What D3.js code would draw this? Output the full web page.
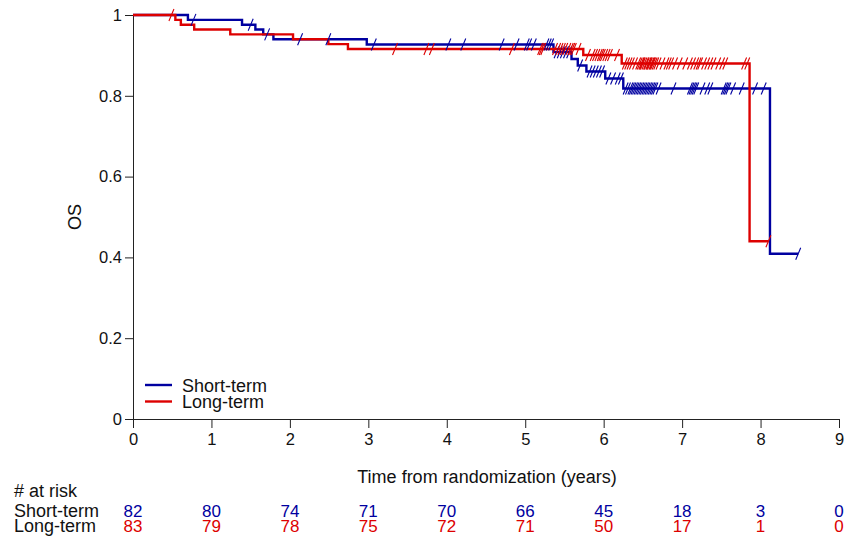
<!DOCTYPE html>
<html lang="en">
<head>
<meta charset="UTF-8">
<title>OS by arm</title>
<script src="https://d3js.org/d3.v7.min.js"></script>
<style>
  body { margin: 0; background: #fff; }
  svg { display: block; font-family: "Liberation Sans", Arial, sans-serif; }
</style>
</head>
<body>
<svg id="chart" width="849" height="538"></svg>
<script>
// survival steps (time in years, OS)
var shortTimes = [0, 0.70, 1.39, 1.56, 1.66, 1.79, 2.98, 5.36, 5.59, 5.67, 5.78, 6.02, 6.25, 8.12];
var shortSurv  = [1, 0.988, 0.976, 0.964, 0.952, 0.940, 0.927, 0.908, 0.891, 0.875, 0.860, 0.843, 0.818, 0.409];
var shortEnd = 8.48;
var shortCens = [0.77, 1.50, 1.71, 2.13, 2.49, 3.07, 4.02, 4.21, 4.70, 4.89,
  5.02, 5.05, 5.11, 5.27, 5.30, 5.33, 5.40, 5.44, 5.48, 5.52, 5.56, 5.70, 5.82, 5.86, 5.90, 5.94, 5.98,
  6.06, 6.12, 6.18, 6.22, 6.28, 6.31, 6.34, 6.36, 6.38, 6.40, 6.42, 6.44, 6.46, 6.48, 6.50, 6.52,
  6.54, 6.56, 6.58, 6.60, 6.62, 6.64, 6.66, 6.70, 6.89,
  7.10, 7.12, 7.14, 7.16, 7.18, 7.26, 7.32, 7.36, 7.53, 7.55, 7.57, 7.59, 7.65, 7.76, 7.93, 8.04, 8.48];

var longTimes = [0, 0.54, 0.61, 0.78, 1.24, 2.04, 2.49, 2.74, 5.74, 6.23, 7.86];
var longSurv  = [1, 0.988, 0.976, 0.964, 0.952, 0.940, 0.928, 0.916, 0.901, 0.880, 0.440];
var longEnd = 8.10;
var longCens = [0.49, 3.34, 3.74, 3.81, 4.83,
  5.19, 5.21, 5.23, 5.38, 5.42, 5.45, 5.48, 5.51, 5.55, 5.58, 5.60, 5.62, 5.68, 5.80, 5.86, 5.89, 5.92, 5.95, 5.97, 5.99,
  6.02, 6.05, 6.08, 6.17, 6.27, 6.30, 6.33, 6.36, 6.40, 6.44, 6.46, 6.48, 6.49, 6.50, 6.52, 6.54, 6.55,
  6.57, 6.58, 6.59, 6.61, 6.62, 6.63, 6.65, 6.67, 6.70, 6.75, 6.80, 6.83, 6.86, 6.91, 6.97,
  7.04, 7.10, 7.14, 7.18, 7.21, 7.23, 7.28, 7.32, 7.36, 7.40, 7.46, 7.51, 7.55, 7.79, 7.83, 8.10];

var xTicks = [0, 1, 2, 3, 4, 5, 6, 7, 8, 9];
var yTicks = [0, 0.2, 0.4, 0.6, 0.8, 1];
var shortRisk = [82, 80, 74, 71, 70, 66, 45, 18, 3, 0];
var longRisk  = [83, 79, 78, 75, 72, 71, 50, 17, 1, 0];

var blue = "#0000a0", red = "#dd0000";
var ink = "#111";

var svg = d3.select("#chart");
var x = d3.scaleLinear().domain([0, 9]).range([133, 839]);
var y = d3.scaleLinear().domain([0, 1]).range([419, 15]);

// axes
var xAxis = svg.append("g").attr("transform", "translate(0,419)")
  .call(d3.axisBottom(x).tickValues(xTicks).tickSize(9).tickSizeOuter(0).tickFormat(d3.format("d")));
var yAxis = svg.append("g").attr("transform", "translate(133,0)")
  .call(d3.axisLeft(y).tickValues(yTicks).tickSize(8).tickSizeOuter(0).tickFormat(d => d === 0 || d === 1 ? d : d3.format(".1f")(d)));
[xAxis, yAxis].forEach(function (a) {
  a.select(".domain").attr("stroke", "#222");
  a.selectAll(".tick line").attr("stroke", "#222");
  a.selectAll("text").attr("font-size", 16.5).attr("fill", ink).attr("font-family", "Liberation Sans, Arial, sans-serif");
});
xAxis.selectAll("text").attr("dy", 0).attr("y", 26);
yAxis.selectAll("text").attr("x", -11);

svg.append("text").attr("transform", "translate(81,217) rotate(-90)")
  .attr("text-anchor", "middle").attr("font-size", 18).attr("fill", ink).text("OS");
svg.append("text").attr("x", 487).attr("y", 483)
  .attr("text-anchor", "middle").attr("font-size", 18).attr("fill", ink).text("Time from randomization (years)");

// curves
var line = d3.line().x(d => x(d[0])).y(d => y(d[1])).curve(d3.curveStepAfter);
function drawGroup(times, surv, end, color) {
  var pts = times.map((t, i) => [t, surv[i]]);
  pts.push([end, surv[surv.length - 1]]);
  svg.append("path").datum(pts).attr("d", line)
    .attr("fill", "none").attr("stroke", color).attr("stroke-width", 2.4);
}
function drawCens(times, surv, cens, color) {
  svg.append("g").selectAll("line").data(cens).enter().append("line")
    .attr("x1", d => x(d) - 2.5)
    .attr("x2", d => x(d) + 2.5)
    .attr("y1", d => y(surv[d3.bisectRight(times, d) - 1]) + 6)
    .attr("y2", d => y(surv[d3.bisectRight(times, d) - 1]) - 6)
    .attr("stroke", color).attr("stroke-width", 1.1);
}
drawGroup(shortTimes, shortSurv, shortEnd, blue);
drawGroup(longTimes, longSurv, longEnd, red);
drawCens(shortTimes, shortSurv, shortCens, blue);
drawCens(longTimes, longSurv, longCens, red);

// legend
var legend = [["Short-term", blue], ["Long-term", red]];
legend.forEach(function (l, i) {
  var ly = 385 + i * 16.5;
  svg.append("line").attr("x1", 145).attr("x2", 172).attr("y1", ly).attr("y2", ly)
    .attr("stroke", l[1]).attr("stroke-width", 2.4);
  svg.append("text").attr("x", 182).attr("y", ly + 6.5).attr("font-size", 18).attr("fill", ink).text(l[0]);
});

// risk table
svg.append("text").attr("x", 14).attr("y", 497).attr("font-size", 18).attr("fill", ink).text("# at risk");
svg.append("text").attr("x", 14).attr("y", 517).attr("font-size", 18).attr("fill", ink).text("Short-term");
svg.append("text").attr("x", 14).attr("y", 532).attr("font-size", 18).attr("fill", ink).text("Long-term");
svg.append("g").selectAll("text").data(shortRisk).enter().append("text")
  .attr("x", (d, i) => x(xTicks[i])).attr("y", 517).attr("text-anchor", "middle")
  .attr("font-size", 17).attr("fill", blue).text(d => d);
svg.append("g").selectAll("text").data(longRisk).enter().append("text")
  .attr("x", (d, i) => x(xTicks[i])).attr("y", 532).attr("text-anchor", "middle")
  .attr("font-size", 17).attr("fill", red).text(d => d);
</script>
</body>
</html>
